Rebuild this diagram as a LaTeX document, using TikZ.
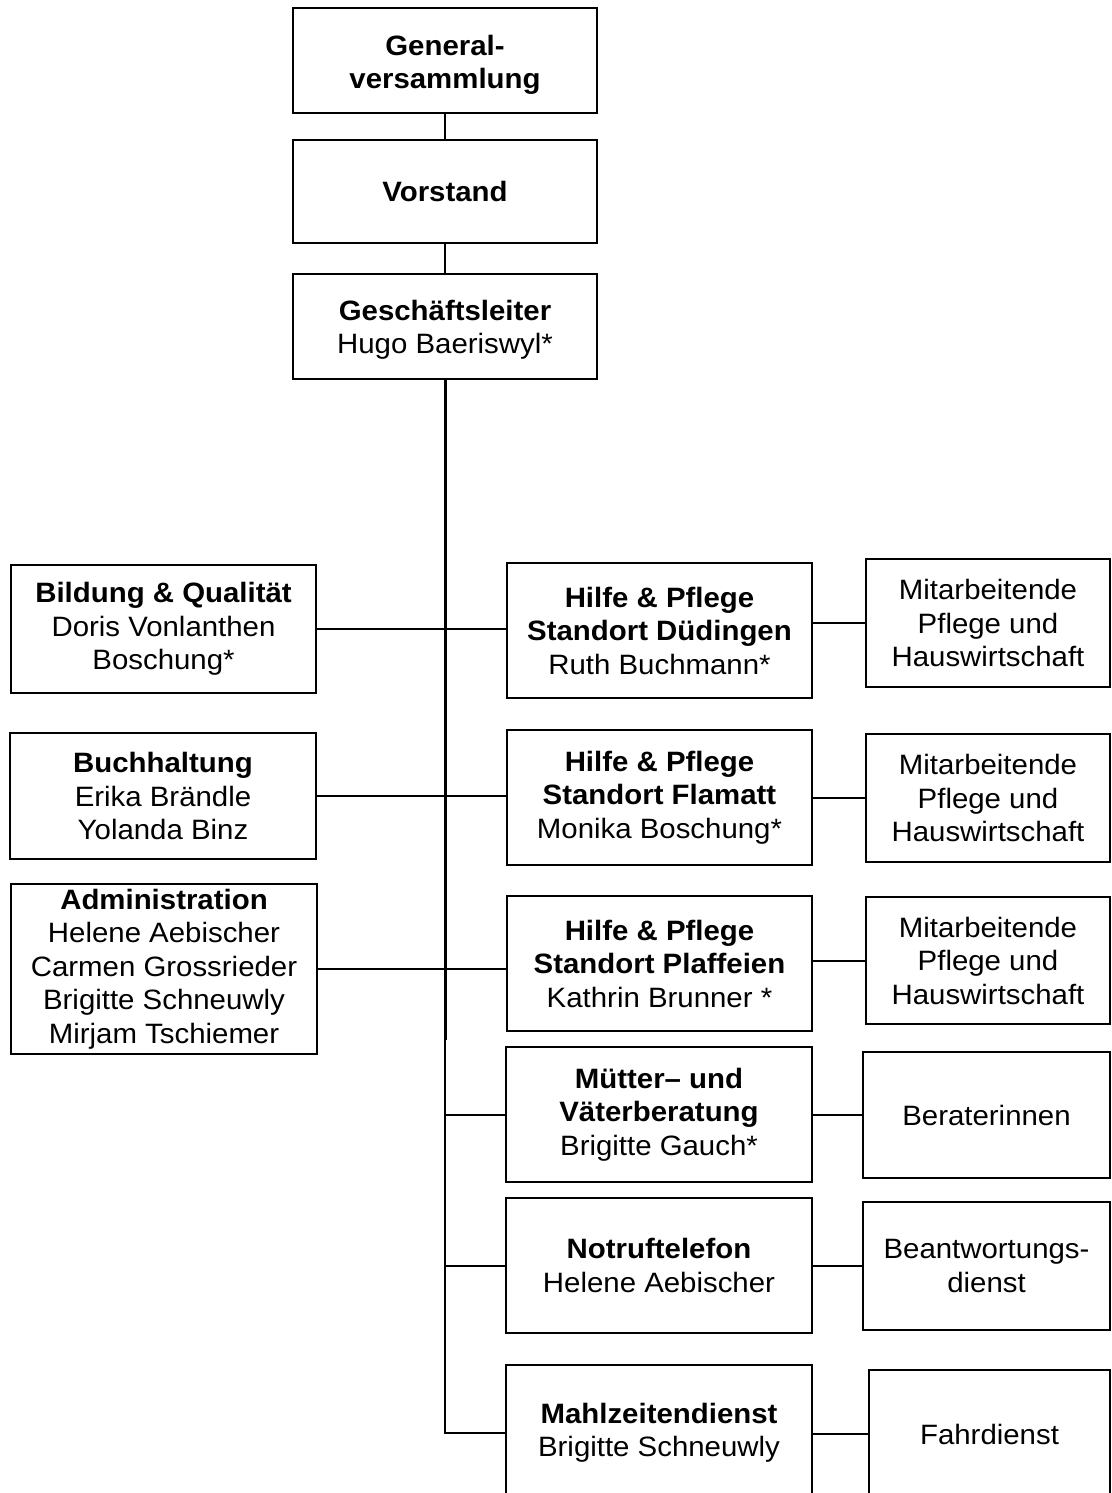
\documentclass[tikz,border=0pt]{standalone}
\usepackage{fontspec}
\setmainfont{Liberation Sans}[FakeStretch=1.05]
\begin{document}
\begin{tikzpicture}[x=1pt,y=-1pt,
  box/.style={draw, line width=2.7pt, rectangle, inner sep=0pt, align=center,
    font=\fontsize{28}{33.5}\selectfont},
  conn/.style={line width=2pt},
  trunk/.style={line width=3pt}]
\useasboundingbox (0,0) rectangle (1111,1493);
\clip (0,0) rectangle (1111,1493);
% top
\node[box, minimum width=304pt, minimum height=105pt, text height=62pt] (gv) at (445,60.5) {\textbf{General-}\\\textbf{versammlung}};
\node[box, minimum width=304pt, minimum height=103pt] (vs) at (445,191.5) {\textbf{Vorstand}};
\node[box, minimum width=304pt, minimum height=105pt, text height=60pt] (gl) at (445,326.5) {\textbf{Geschäftsleiter}\\Hugo Baeriswyl*};
% left
\node[box, minimum width=305pt, minimum height=128pt] (bild) at (163.5,629) {\textbf{Bildung \& Qualität}\\Doris Vonlanthen\\Boschung*};
\node[box, minimum width=306pt, minimum height=126pt] (buch) at (163,796) {\textbf{Buchhaltung}\\Erika Brändle\\Yolanda Binz};
\node[box, minimum width=306pt, minimum height=170pt] (admin) at (164,969) {\textbf{Administration}\\Helene Aebischer\\Carmen Grossrieder\\Brigitte Schneuwly\\Mirjam Tschiemer};
% middle
\node[box, minimum width=305pt, minimum height=135pt] (dued) at (659.5,630.5) {\textbf{Hilfe \& Pflege}\\\textbf{Standort Düdingen}\\Ruth Buchmann*};
\node[box, minimum width=305pt, minimum height=135pt] (flam) at (659.5,797.5) {\textbf{Hilfe \& Pflege}\\\textbf{Standort Flamatt}\\Monika Boschung*};
\node[box, minimum width=305pt, minimum height=135pt] (plaf) at (659.5,963.5) {\textbf{Hilfe \& Pflege}\\\textbf{Standort Plaffeien}\\Kathrin Brunner *};
\node[box, minimum width=306pt, minimum height=135pt] (muet) at (659,1114.5) {\textbf{Mütter– und}\\\textbf{Väterberatung}\\Brigitte Gauch*};
\node[box, minimum width=306pt, minimum height=135pt] (notr) at (659,1265.5) {\textbf{Notruftelefon}\\Helene Aebischer};
\node[box, minimum width=306pt, minimum height=135pt] (mahl) at (659,1432.5) {\textbf{Mahlzeitendienst}\\Brigitte Schneuwly};
% right
\node[box, minimum width=244pt, minimum height=128pt] (mit1) at (988,623) {Mitarbeitende\\Pflege und\\Hauswirtschaft};
\node[box, minimum width=244pt, minimum height=128pt] (mit2) at (988,798) {Mitarbeitende\\Pflege und\\Hauswirtschaft};
\node[box, minimum width=244pt, minimum height=127pt] (mit3) at (988,960.5) {Mitarbeitende\\Pflege und\\Hauswirtschaft};
\node[box, minimum width=247pt, minimum height=126pt] (ber) at (986.5,1115) {Beraterinnen};
\node[box, minimum width=247pt, minimum height=128pt] (bea) at (986.5,1266) {Beantwortungs-\\dienst};
\node[box, minimum width=241pt, minimum height=128pt] (fahr) at (989.5,1434) {Fahrdienst};
% connectors
\draw[conn] (gv.south) -- (vs.north);
\draw[conn] (vs.south) -- (gl.north);
\coordinate (tb) at (445,1040);
\draw[trunk] (gl.south) -- (tb);
\draw[conn] (tb) -- (tb |- mahl.west) -- (mahl.west);
\draw[conn] (bild.east) -- (bild.east -| dued.west);
\draw[conn] (buch.east) -- (buch.east -| flam.west);
\draw[conn] (admin.east) -- (admin.east -| plaf.west);
\draw[conn] (tb |- muet.west) -- (muet.west);
\draw[conn] (tb |- notr.west) -- (notr.west);
\draw[conn] (dued.east |- mit1.west) -- (mit1.west);
\draw[conn] (flam.east |- mit2.west) -- (mit2.west);
\draw[conn] (plaf.east |- mit3.west) -- (mit3.west);
\draw[conn] (muet.east |- ber.west) -- (ber.west);
\draw[conn] (notr.east |- bea.west) -- (bea.west);
\draw[conn] (mahl.east |- fahr.west) -- (fahr.west);
\end{tikzpicture}
\end{document}
